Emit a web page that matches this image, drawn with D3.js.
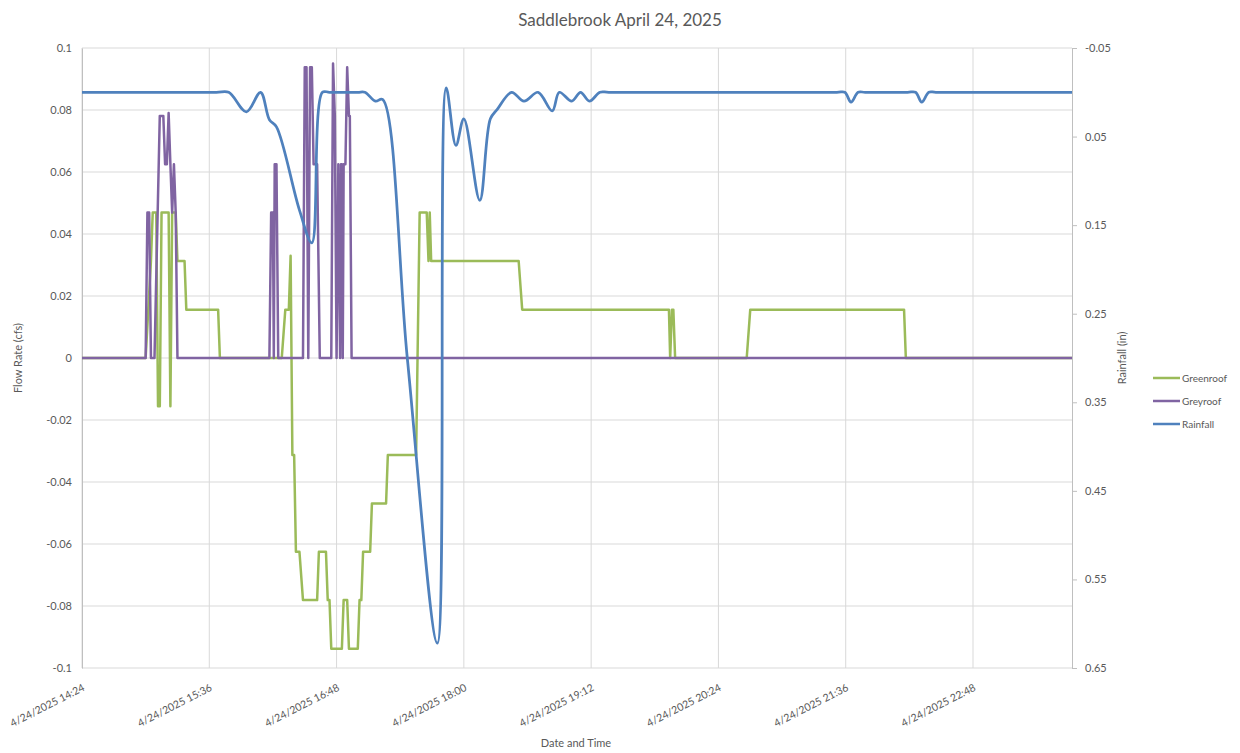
<!DOCTYPE html>
<html>
<head>
<meta charset="utf-8">
<script src="https://cdn.jsdelivr.net/npm/d3@7"></script>
<style>
  body { margin: 0; background: #fff; }
  svg text { font-family: Lato, "Open Sans", sans-serif; fill: #595959; }
</style>
</head>
<body>
<svg id="chart"></svg>
<script>
const width = 1240;
const height = 753;

// times are "H:MM" (minutes may be fractional)
const greenroof = [
  ["14:24", 0], ["15:00", 0], ["15:03", 0.0313], ["15:04", 0.0469], ["15:06", 0.0469],
  ["15:07", -0.0156], ["15:08", -0.0156], ["15:09", 0.0469], ["15:13", 0.0469],
  ["15:14", -0.0156], ["15:15", 0.0469], ["15:17", 0.0469], ["15:18", 0.0313],
  ["15:22", 0.0313], ["15:23", 0.0156], ["15:41", 0.0156], ["15:42", 0],
  ["16:17", 0], ["16:19", 0.0156], ["16:21", 0.0156], ["16:22", 0.033],
  ["16:23", -0.0313], ["16:24", -0.0313], ["16:25", -0.0625], ["16:27", -0.0625],
  ["16:29", -0.0781], ["16:37", -0.0781], ["16:38", -0.0625], ["16:42", -0.0625],
  ["16:43", -0.0781], ["16:44", -0.0781], ["16:45", -0.0938], ["16:51", -0.0938],
  ["16:52", -0.0781], ["16:54", -0.0781], ["16:55", -0.0938], ["17:00", -0.0938],
  ["17:01", -0.0781], ["17:02", -0.0781], ["17:03", -0.0625], ["17:07", -0.0625],
  ["17:08", -0.0469], ["17:16", -0.0469], ["17:17", -0.0313], ["17:33", -0.0313],
  ["17:35", 0.0469], ["17:39", 0.0469], ["17:40", 0.0313], ["17:40.7", 0.0469],
  ["17:41.5", 0.0313], ["18:31", 0.0313], ["18:33", 0.0156], ["19:56", 0.0156],
  ["19:56.7", 0], ["19:57.7", 0.0156], ["19:58.5", 0.0156], ["19:59.5", 0],
  ["20:40", 0], ["20:42", 0.0156], ["22:09", 0.0156], ["22:10", 0], ["23:44", 0]
];

const greyroof = [
  ["14:24", 0], ["15:00", 0], ["15:01", 0.0469], ["15:02", 0.0469], ["15:03", 0],
  ["15:05", 0], ["15:08", 0.0781], ["15:10", 0.0781], ["15:11", 0.0625],
  ["15:12", 0.0625], ["15:13", 0.079], ["15:14", 0.0625], ["15:15", 0.0469],
  ["15:16", 0.0625], ["15:17", 0.0469], ["15:18", 0], ["16:10", 0],
  ["16:11", 0.0469], ["16:12", 0.0469], ["16:12.5", 0], ["16:13", 0.0625],
  ["16:14", 0.0625], ["16:15", 0], ["16:29", 0], ["16:30", 0.0938], ["16:31", 0.0938],
  ["16:32", 0], ["16:33", 0.0938], ["16:34", 0.0938], ["16:35", 0.0625],
  ["16:37", 0.0625], ["16:38.5", 0], ["16:45", 0], ["16:46", 0.095], ["16:47", 0.0781],
  ["16:48", 0], ["16:49", 0.0625], ["16:50", 0], ["16:50.5", 0.0625], ["16:51", 0.0625],
  ["16:51.5", 0], ["16:52", 0.0625], ["16:53", 0.0625], ["16:54", 0.0938],
  ["16:55", 0.0781], ["16:55.5", 0.0781], ["16:56.5", 0], ["23:44", 0]
];

const rainfall = [
  ["14:24", 0], ["15:00", 0], ["15:40", 0], ["15:47", 0], ["15:57", 0.022], ["16:05", 0],
  ["16:10", 0.031], ["16:14", 0.039], ["16:27", 0.133], ["16:34", 0.17], ["16:40", 0],
  ["16:44", 0], ["17:00", 0], ["17:04", 0], ["17:10", 0.01], ["17:14", 0.008],
  ["17:28", 0.3], ["17:45", 0.622], ["17:50", -0.005], ["17:55.5", 0.06], ["18:00", 0.03],
  ["18:09", 0.122], ["18:15", 0.03], ["18:19", 0.019], ["18:27", 0], ["18:34", 0.01],
  ["18:42", 0], ["18:50", 0.021], ["18:54", 0], ["19:01", 0.01], ["19:06", 0],
  ["19:11", 0.01], ["19:17", 0], ["19:22", 0], ["21:31", 0], ["21:35.5", 0],
  ["21:39", 0.011], ["21:43", 0], ["21:47", 0], ["22:11", 0], ["22:15.5", 0],
  ["22:19", 0.011], ["22:23", 0], ["22:27", 0], ["23:44", 0]
];

const xTickTimes = ["14:24", "15:36", "16:48", "18:00", "19:12", "20:24", "21:36", "22:48"];
const flowTicks = [0.1, 0.08, 0.06, 0.04, 0.02, 0, -0.02, -0.04, -0.06, -0.08, -0.1];
const rainTicks = [-0.05, 0.05, 0.15, 0.25, 0.35, 0.45, 0.55, 0.65];

const seriesNames = ["Greenroof", "Greyroof", "Rainfall"];
const seriesColors = ["#9bbb59", "#8064a2", "#4f81bd"];

const parseT = s => {
  const [h, m] = s.split(":");
  return new Date(2025, 3, 24, +h, 0, 0, Math.round(parseFloat(m) * 60000));
};

const plotLeft = 82, plotRight = 1072, plotTop = 48, plotBottom = 668;

const x = d3.scaleTime()
  .domain([parseT("14:24"), parseT("23:44")])
  .range([plotLeft, plotRight]);
const yFlow = d3.scaleLinear().domain([-0.1, 0.1]).range([plotBottom, plotTop]);
const yRain = d3.scaleLinear().domain([-0.05, 0.65]).range([plotTop, plotBottom]);

const fmt = v => String(+v.toFixed(2));

const svg = d3.select("#chart")
  .attr("width", width)
  .attr("height", height);

// gridlines
svg.append("g")
  .selectAll("line")
  .data(flowTicks)
  .join("line")
    .attr("x1", plotLeft).attr("x2", plotRight)
    .attr("y1", d => yFlow(d)).attr("y2", d => yFlow(d))
    .attr("stroke", "#d9d9d9");

svg.append("g")
  .selectAll("line")
  .data(xTickTimes)
  .join("line")
    .attr("x1", d => x(parseT(d))).attr("x2", d => x(parseT(d)))
    .attr("y1", plotTop).attr("y2", plotBottom)
    .attr("stroke", "#d9d9d9");

// left axis
const leftAxis = svg.append("g")
  .attr("transform", `translate(${plotLeft},0)`)
  .call(d3.axisLeft(yFlow).tickValues(flowTicks).tickFormat(fmt).tickSize(0).tickPadding(10));
leftAxis.select(".domain").attr("stroke", "#bfbfbf");
leftAxis.selectAll("text").style("font-size", "11px").attr("fill", "#595959");

// right axis
const rightAxis = svg.append("g")
  .attr("transform", `translate(${plotRight},0)`)
  .call(d3.axisRight(yRain).tickValues(rainTicks).tickFormat(fmt).tickSize(5).tickSizeOuter(0).tickPadding(8));
rightAxis.select(".domain").attr("stroke", "#bfbfbf");
rightAxis.selectAll("line").attr("stroke", "#bfbfbf");
rightAxis.selectAll("text").style("font-size", "11px").attr("fill", "#595959");

// x labels
svg.append("g")
  .selectAll("text")
  .data(xTickTimes)
  .join("text")
    .attr("transform", d => `translate(${x(parseT(d)) + 3.5},${plotBottom + 22}) rotate(-27)`)
    .attr("text-anchor", "end")
    .style("font-size", "10.5px")
    .text(d => `4/24/2025 ${d}`);

// series
const lineFlow = d3.line()
  .x(d => x(parseT(d[0])))
  .y(d => yFlow(d[1]));
const lineRain = d3.line()
  .x(d => x(parseT(d[0])))
  .y(d => yRain(d[1]))
  .curve(d3.curveCatmullRom.alpha(0.5));

svg.append("path")
  .datum(greenroof)
  .attr("fill", "none")
  .attr("stroke", seriesColors[0])
  .attr("stroke-width", 2.5)
  .attr("stroke-linejoin", "round")
  .attr("d", lineFlow);

svg.append("path")
  .datum(greyroof)
  .attr("fill", "none")
  .attr("stroke", seriesColors[1])
  .attr("stroke-width", 2.5)
  .attr("stroke-linejoin", "round")
  .attr("d", lineFlow);

svg.append("path")
  .datum(rainfall)
  .attr("fill", "none")
  .attr("stroke", seriesColors[2])
  .attr("stroke-width", 2.75)
  .attr("stroke-linejoin", "round")
  .attr("d", lineRain);

// titles
svg.append("text")
  .attr("x", 620).attr("y", 26)
  .attr("text-anchor", "middle")
  .style("font-size", "17px")
  .text("Saddlebrook April 24, 2025");

svg.append("text")
  .attr("transform", `translate(22,${(plotTop + plotBottom) / 2}) rotate(-90)`)
  .attr("text-anchor", "middle")
  .style("font-size", "11px")
  .text("Flow Rate (cfs)");

svg.append("text")
  .attr("transform", `translate(1126,${(plotTop + plotBottom) / 2}) rotate(-90)`)
  .attr("text-anchor", "middle")
  .style("font-size", "11px")
  .text("Rainfall (in)");

svg.append("text")
  .attr("x", 576).attr("y", 747)
  .attr("text-anchor", "middle")
  .style("font-size", "11px")
  .text("Date and Time");

// legend
const legend = svg.append("g")
  .selectAll("g")
  .data(seriesNames)
  .join("g")
    .attr("transform", (d, i) => `translate(1153,${378 + i * 23})`);
legend.append("line")
  .attr("x1", 0).attr("x2", 27)
  .attr("stroke", (d, i) => seriesColors[i])
  .attr("stroke-width", 2.5);
legend.append("text")
  .attr("x", 29).attr("dy", "0.35em")
  .style("font-size", "10px")
  .text(d => d);
</script>
</body>
</html>
